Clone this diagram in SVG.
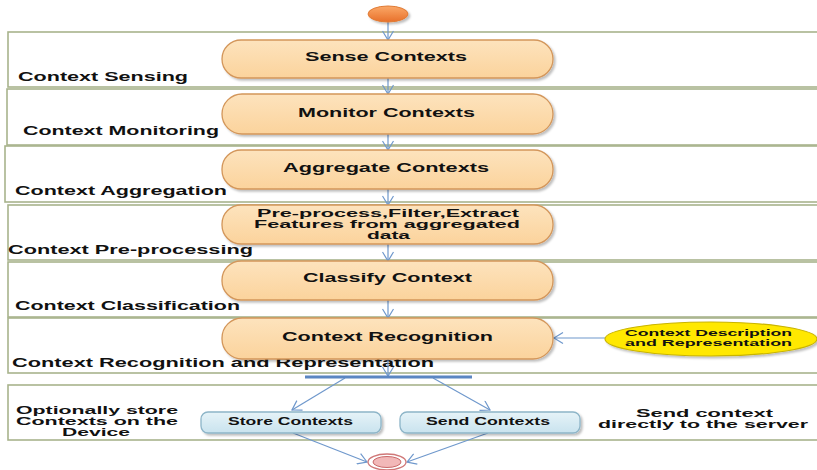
<svg xmlns="http://www.w3.org/2000/svg" width="817" height="470" viewBox="0 0 817 470">
<defs>
<linearGradient id="gAct" x1="0" y1="0" x2="0" y2="1"><stop offset="0" stop-color="#FDE3BD"/><stop offset="1" stop-color="#FBD39C"/></linearGradient>
<linearGradient id="gBlue" x1="0" y1="0" x2="0" y2="1"><stop offset="0" stop-color="#E6F3F8"/><stop offset="1" stop-color="#C9E3EE"/></linearGradient>
<linearGradient id="gStart" x1="0" y1="0" x2="0" y2="1"><stop offset="0" stop-color="#FBA868"/><stop offset="1" stop-color="#E8702A"/></linearGradient>
<marker id="arr" markerWidth="12" markerHeight="12" refX="10" refY="6" orient="auto" markerUnits="userSpaceOnUse"><path d="M1,0.5 L10,6 L1,11.5" fill="none" stroke="#6F98CC" stroke-width="1.2"/></marker>
<filter id="sh" x="-10%" y="-20%" width="130%" height="150%"><feDropShadow dx="2" dy="2" stdDeviation="1.2" flood-color="#000" flood-opacity="0.25"/></filter>
</defs>
<style>
.lane{fill:#fff;stroke:#A8B38C;stroke-width:1.6}
.act{fill:url(#gAct);stroke:#D3965A;stroke-width:1.3;filter:url(#sh)}
.blue{fill:url(#gBlue);stroke:#8DB5C8;stroke-width:1.3;filter:url(#sh)}
.t{font-family:"Liberation Sans",Arial,sans-serif;font-weight:bold;fill:#111}
.lt{font-size:12.5px}
.ml{font-size:10.5px}
.nt{font-size:12px}
.st{font-size:10.5px}
.sm{font-size:9.5px}
.c{fill:none;stroke:#6F98CC;stroke-width:1.2;marker-end:url(#arr)}
</style>
<rect width="817" height="470" fill="#fff"/>
<g id="lanes">
<rect class="lane" x="8" y="32" width="815" height="55"/>
<rect class="lane" x="7" y="89" width="816" height="56"/>
<rect class="lane" x="5" y="146" width="818" height="56"/>
<rect class="lane" x="8" y="205" width="815" height="55"/>
<rect class="lane" x="8" y="262" width="815" height="55"/>
<rect class="lane" x="8" y="318" width="815" height="55"/>
<rect class="lane" x="8" y="385" width="815" height="55"/>
</g>
<g id="lane-labels" class="t">
<text class="lt" x="18" y="81" textLength="170" lengthAdjust="spacingAndGlyphs">Context Sensing</text>
<text class="lt" x="23" y="135" textLength="196" lengthAdjust="spacingAndGlyphs">Context Monitoring</text>
<text class="lt" x="15" y="195" textLength="212" lengthAdjust="spacingAndGlyphs">Context Aggregation</text>
<text class="lt" x="8" y="254" textLength="245" lengthAdjust="spacingAndGlyphs">Context Pre-processing</text>
<text class="lt" x="15" y="310" textLength="225" lengthAdjust="spacingAndGlyphs">Context Classification</text>
<text class="lt" x="12" y="367" textLength="422" lengthAdjust="spacingAndGlyphs">Context Recognition and Representation</text>
<text class="ml" x="16" y="414" textLength="162" lengthAdjust="spacingAndGlyphs">Optionally store</text>
<text class="ml" x="16" y="425" textLength="162" lengthAdjust="spacingAndGlyphs">Contexts on the</text>
<text class="ml" x="62" y="436" textLength="68" lengthAdjust="spacingAndGlyphs">Device</text>
<text class="ml" x="636" y="417" textLength="137" lengthAdjust="spacingAndGlyphs">Send context</text>
<text class="ml" x="598" y="428" textLength="210" lengthAdjust="spacingAndGlyphs">directly to the server</text>
</g>
<g id="connectors">
<path class="c" d="M388,22 V40"/>
<path class="c" d="M388,78 V94"/>
<path class="c" d="M388,134 V150"/>
<path class="c" d="M388,189 V205"/>
<path class="c" d="M388,244 V261"/>
<path class="c" d="M388,300 V318"/>
<path class="c" d="M388,359 V376"/>
<path class="c" d="M605,338 H554"/>
<path class="c" d="M345,378 L292,410"/>
<path class="c" d="M433,378 L490,410"/>
<path class="c" d="M293,433 L367,462"/>
<path class="c" d="M488,433 L407,462"/>
</g>
<g id="start"><ellipse cx="388" cy="14" rx="20" ry="8" fill="url(#gStart)" stroke="#E07B35" stroke-width="1" filter="url(#sh)"/></g>
<g id="sense"><rect class="act" x="222" y="40" width="331" height="38" rx="19"/><text class="t nt" x="305" y="61" textLength="162" lengthAdjust="spacingAndGlyphs">Sense Contexts</text></g>
<g id="monitor"><rect class="act" x="222" y="94" width="331" height="40" rx="20"/><text class="t nt" x="298" y="117" textLength="177" lengthAdjust="spacingAndGlyphs">Monitor Contexts</text></g>
<g id="aggregate"><rect class="act" x="222" y="150" width="331" height="39" rx="19"/><text class="t nt" x="283" y="172" textLength="206" lengthAdjust="spacingAndGlyphs">Aggregate Contexts</text></g>
<g id="preprocess"><rect class="act" x="222" y="205" width="331" height="39" rx="19"/>
<text class="t ml" x="257" y="217" textLength="262" lengthAdjust="spacingAndGlyphs">Pre-process,Filter,Extract</text>
<text class="t ml" x="254" y="228" textLength="266" lengthAdjust="spacingAndGlyphs">Features from aggregated</text>
<text class="t ml" x="367" y="239" textLength="43" lengthAdjust="spacingAndGlyphs">data</text></g>
<g id="classify"><rect class="act" x="222" y="261" width="331" height="39" rx="19"/><text class="t nt" x="303" y="282" textLength="169" lengthAdjust="spacingAndGlyphs">Classify Context</text></g>
<g id="recognition"><rect class="act" x="222" y="318" width="331" height="41" rx="20"/><text class="t nt" x="282" y="341" textLength="211" lengthAdjust="spacingAndGlyphs">Context Recognition</text></g>
<g id="description"><ellipse cx="711" cy="339" rx="106" ry="17" fill="#FFE800" stroke="#C9B400" stroke-width="1.2" filter="url(#sh)"/>
<text class="t sm" x="625" y="336" textLength="167" lengthAdjust="spacingAndGlyphs">Context Description</text>
<text class="t sm" x="625" y="346" textLength="167" lengthAdjust="spacingAndGlyphs">and Representation</text></g>
<g id="fork"><line x1="305" y1="377" x2="472" y2="377" stroke="#5B86C2" stroke-width="3"/></g>
<g id="store"><rect class="blue" x="201" y="412" width="180" height="21" rx="7"/><text class="t st" x="228" y="425" textLength="125" lengthAdjust="spacingAndGlyphs">Store Contexts</text></g>
<g id="send"><rect class="blue" x="400" y="412" width="180" height="21" rx="7"/><text class="t st" x="426" y="425" textLength="124" lengthAdjust="spacingAndGlyphs">Send Contexts</text></g>
<g id="end"><ellipse cx="387" cy="462" rx="19" ry="8" fill="#fff" stroke="#D07878" stroke-width="1.3"/><ellipse cx="387" cy="462" rx="14" ry="5.5" fill="#F2B8B8" stroke="#C96A6A" stroke-width="1"/></g>
</svg>
